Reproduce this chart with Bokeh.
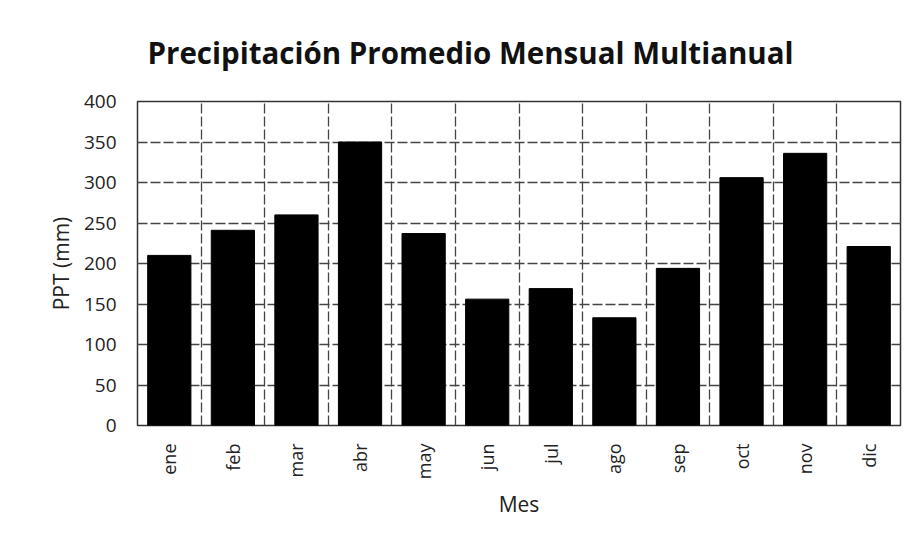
from bokeh.plotting import figure
from bokeh.models import FactorRange, Range1d, FixedTicker
from bokeh.embed import file_html
from bokeh.resources import INLINE

months = ["ene", "feb", "mar", "abr", "may", "jun", "jul", "ago", "sep", "oct", "nov", "dic"]
ppt = [210, 241, 260, 350, 237, 156, 169, 133, 194, 306, 336, 221]
y_ticks = [0, 50, 100, 150, 200, 250, 300, 350, 400]

FONT = "Open Sans"

p = figure(width=910, height=539, output_backend="svg", toolbar_location=None,
           x_range=FactorRange(factors=months, range_padding=0),
           y_range=Range1d(0, 400),
           min_border_left=137, min_border_right=10, min_border_top=100, min_border_bottom=114)

p.vbar(x=months, top=ppt, width=0.68, fill_color="#000000", line_color="#000000")

p.title.text = "Precipitación Promedio Mensual Multianual"
p.title.text_font = FONT
p.title.text_font_size = "29.5px"
p.title.text_font_style = "bold"
p.title.text_color = "#111111"
p.title.align = "left"
p.title.offset = 10
p.title.standoff = 58

p.yaxis.ticker = FixedTicker(ticks=y_ticks)
p.yaxis.axis_label = "PPT (mm)"
p.xaxis.axis_label = "Mes"
for ax in (p.xaxis[0], p.yaxis[0]):
    ax.axis_line_color = None
    ax.major_tick_line_color = None
    ax.minor_tick_line_color = None
    ax.major_label_text_font = FONT
    ax.major_label_text_color = "#222222"
    ax.axis_label_text_font = FONT
    ax.axis_label_text_font_style = "normal"
    ax.axis_label_text_color = "#222222"
    ax.axis_label_text_font_size = "21px"
p.yaxis.major_label_text_font_size = "19px"
p.yaxis.major_label_standoff = 15
p.yaxis.axis_label_standoff = 6
p.xaxis.major_label_text_font_size = "18px"
p.xaxis.major_label_orientation = 1.5708
p.xaxis.major_label_standoff = 12
p.xaxis.axis_label_standoff = 8

p.ygrid.ticker = FixedTicker(ticks=y_ticks)
p.xgrid.ticker = FixedTicker(ticks=list(range(1, 12)))
for g in (p.xgrid[0], p.ygrid[0]):
    g.grid_line_color = "#444444"
    g.grid_line_width = 1.3
    g.grid_line_dash = "10 3"

p.outline_line_color = "#333333"
p.outline_line_width = 1.5
p.background_fill_color = "white"
p.border_fill_color = "white"

open("out.html", "w").write(file_html(p, INLINE))
